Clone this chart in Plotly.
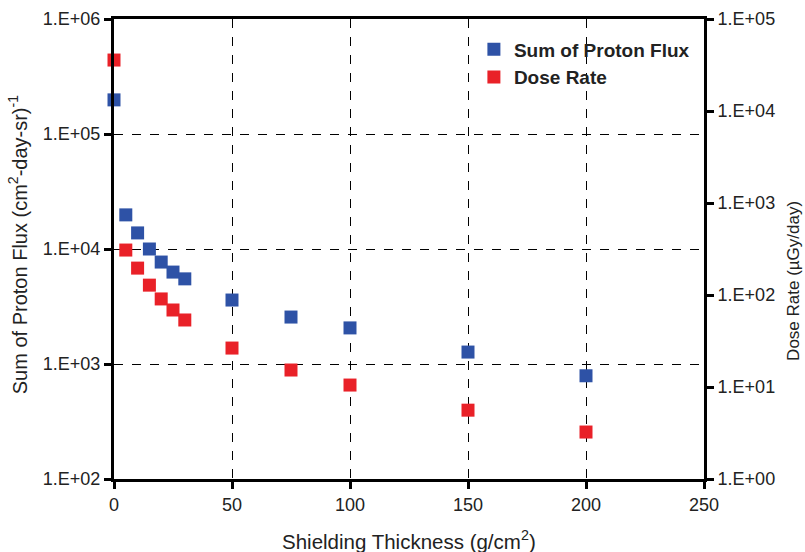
import plotly.graph_objects as go

thickness = [0, 5, 10, 15, 20, 25, 30, 50, 75, 100, 150, 200]
proton_flux = [198000, 19800, 13800, 10000, 7700, 6300, 5500, 3600, 2560, 2060, 1270, 790]
dose_rate = [35800, 308, 196, 128, 90.6, 68.7, 53.5, 26.5, 15.3, 10.5, 5.6, 3.24]

x_ticks = [0, 50, 100, 150, 200, 250]
left_ticks = [1e2, 1e3, 1e4, 1e5, 1e6]
left_labels = ["1.E+02", "1.E+03", "1.E+04", "1.E+05", "1.E+06"]
right_ticks = [1e0, 1e1, 1e2, 1e3, 1e4, 1e5]
right_labels = ["1.E+00", "1.E+01", "1.E+02", "1.E+03", "1.E+04", "1.E+05"]

BLUE = "#2E52A6"
RED = "#E92128"
FONT = "Liberation Sans, Arial, sans-serif"
TXT = "#222"

fig = go.Figure()
fig.add_trace(go.Scatter(
    x=thickness, y=proton_flux, mode="markers", name="Sum of Proton Flux",
    marker=dict(symbol="square", size=13, color=BLUE, line=dict(width=0)),
    cliponaxis=False, yaxis="y"))
fig.add_trace(go.Scatter(
    x=thickness, y=dose_rate, mode="markers", name="Dose Rate",
    marker=dict(symbol="square", size=13, color=RED, line=dict(width=0)),
    cliponaxis=False, yaxis="y2"))

axis_common = dict(showline=True, linecolor="black", linewidth=3,
                   ticks="outside", ticklen=7, tickwidth=3, tickcolor="black",
                   automargin=False,
                   tickfont=dict(family=FONT, size=18, color=TXT))

fig.update_layout(
    width=805, height=552,
    margin=dict(l=114, r=101, t=19, b=73, autoexpand=False),
    paper_bgcolor="white", plot_bgcolor="white",
    font=dict(family=FONT, color=TXT),
    showlegend=True,
    legend=dict(x=0.61, y=0.975, xanchor="left", yanchor="top",
                bgcolor="rgba(0,0,0,0)", borderwidth=0,
                font=dict(family=FONT, size=19, color=TXT, weight="bold"),
                itemwidth=30, tracegroupgap=0),
    xaxis=dict(range=[0, 250], tickvals=x_ticks, ticktext=[str(v) for v in x_ticks],
               mirror=True, showgrid=True, gridcolor="black", gridwidth=1, griddash="dash",
               zeroline=False, **axis_common),
    yaxis=dict(type="log", range=[2, 6], tickvals=left_ticks, ticktext=left_labels,
               showgrid=True, gridcolor="black", gridwidth=1, griddash="dash",
               zeroline=False, **axis_common),
    yaxis2=dict(type="log", range=[0, 5], tickvals=right_ticks, ticktext=right_labels,
                overlaying="y", side="right", showgrid=False, zeroline=False,
                **axis_common),
    annotations=[
        dict(text="Shielding Thickness (g/cm<sup>2</sup>)", xref="paper", yref="paper",
             x=0.5, y=-0.133, xanchor="center", yanchor="middle", showarrow=False,
             font=dict(family=FONT, size=20.5, color=TXT)),
        dict(text="Sum of Proton Flux (cm<sup>2</sup>-day-sr)<sup>-1</sup>", xref="paper", yref="paper",
             x=-0.163, y=0.51, xanchor="center", yanchor="middle", showarrow=False, textangle=-90,
             font=dict(family=FONT, size=20, color=TXT)),
        dict(text="Dose Rate (\u00b5Gy/day)", xref="paper", yref="paper",
             x=1.152, y=0.43, xanchor="center", yanchor="middle", showarrow=False, textangle=-90,
             font=dict(family=FONT, size=17, color=TXT)),
    ],
)

fig.write_html("out.html", config={"displayModeBar": False},
               post_script="document.body.style.margin='0';document.body.style.overflow='hidden';")
